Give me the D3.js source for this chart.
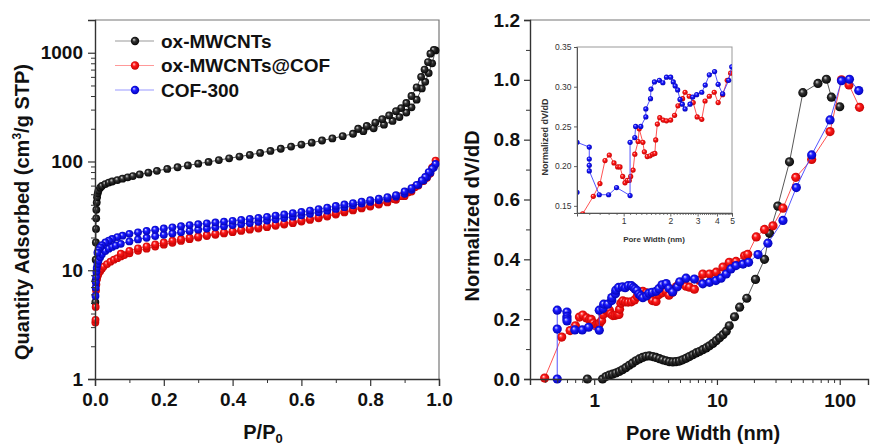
<!DOCTYPE html>
<html>
<head>
<meta charset="utf-8">
<script src="https://cdn.jsdelivr.net/npm/d3@7"></script>
<style>
  body { margin: 0; background: #fff; }
  svg { display: block; font-family: "Liberation Sans", Arial, sans-serif; }
</style>
</head>
<body>
<svg id="chart" width="870" height="448"></svg>
<script>
// ---- Isotherms, [P/P0, quantity] ----
const cntAds = [[0.001,5.1],[0.0015,8],[0.002,12.5],[0.0025,18],[0.003,24],[0.0035,30],[0.004,36],[0.005,42],[0.006,47],[0.008,51],
  [0.01,54],[0.015,57.5],[0.02,59.5],[0.03,62],[0.04,64],[0.05,65.5],[0.065,67.5],[0.08,69.5],[0.095,71.5],[0.11,73.5],[0.13,76],
  [0.155,79],[0.18,82],[0.21,85.5],[0.24,88.5],[0.27,92],[0.30,95.5],[0.33,99],[0.36,103],[0.39,107],[0.42,111],[0.45,115],
  [0.48,120],[0.51,125],[0.54,131],[0.57,137],[0.60,143],[0.63,149],[0.66,156],[0.69,163],[0.72,171],[0.75,180],[0.78,190],
  [0.81,202],[0.84,218],[0.865,236],[0.885,256],[0.905,282],[0.92,315],[0.935,370],[0.95,470],[0.96,540],[0.97,650],[0.98,800],[0.99,1050]]
const cntDes = [[0.985,1060],[0.975,980],[0.968,820],[0.958,700],[0.948,600],[0.935,480],[0.92,400],[0.905,345],[0.89,310],
  [0.875,290],[0.855,265],[0.835,245],[0.815,228],[0.79,212],[0.765,200]]

const hybAds = [[0.001,3.3],[0.0015,3.5],[0.002,4.6],[0.003,6.5],[0.004,7.4],[0.006,8.3],[0.008,8.9],[0.01,9.3],[0.015,9.8],
  [0.02,10.3],[0.025,10.8],[0.035,11.4],[0.045,12.0],[0.055,12.5],[0.065,12.9],[0.075,13.4],[0.085,13.8],[0.1,14.3],[0.125,15.1],
  [0.15,15.8],[0.175,16.5],[0.2,17.2],[0.225,17.9],[0.25,18.6],[0.275,19.3],[0.3,20.0],[0.325,20.6],[0.35,21.2],[0.375,21.8],
  [0.4,22.4],[0.425,23.0],[0.45,23.6],[0.475,24.2],[0.5,24.9],[0.525,25.6],[0.55,26.3],[0.575,27.1],[0.6,28.0],[0.625,29.0],
  [0.65,30.0],[0.675,31.2],[0.7,32.5],[0.725,34.0],[0.75,35.5],[0.775,37.0],[0.8,38.5],[0.825,40.2],[0.85,42.0],[0.875,44.5],
  [0.9,48],[0.92,53],[0.94,60],[0.955,66],[0.965,71],[0.975,78],[0.985,90],[0.99,102]]
const hybDes = [[0.98,88],[0.97,76],[0.96,70],[0.95,66],[0.93,58],[0.91,52],[0.89,48],[0.87,45],[0.85,43],[0.825,41],[0.8,39.5],
  [0.775,38],[0.75,36.5],[0.725,35],[0.7,33.5],[0.675,32],[0.65,30.8],[0.625,29.7],[0.6,28.7],[0.575,27.8],[0.55,27],[0.525,26.2],
  [0.5,25.5],[0.475,24.8],[0.45,24.1],[0.425,23.5],[0.4,22.9],[0.375,22.3],[0.35,21.7],[0.325,21.1],[0.3,20.5],[0.275,19.9],
  [0.25,19.3],[0.225,18.7],[0.2,18.0],[0.175,17.3],[0.15,16.6],[0.125,15.9],[0.1,15.1],[0.075,14.2]]

const cofAds = [[0.0015,5.8],[0.002,6.9],[0.0025,7.8],[0.003,8.7],[0.004,9.7],[0.005,10.5],[0.007,11.4],[0.01,12.2],[0.015,13.2],
  [0.02,14.0],[0.03,15.0],[0.04,15.8],[0.05,16.4],[0.06,16.9],[0.075,17.5],[0.1,18.4],[0.125,19.2],[0.15,19.9],[0.175,20.6],
  [0.2,21.2],[0.225,21.8],[0.25,22.4],[0.275,23.0],[0.3,23.6],[0.325,24.2],[0.35,24.8],[0.375,25.4],[0.4,26.0],[0.425,26.6],
  [0.45,27.2],[0.475,27.9],[0.5,28.6],[0.525,29.4],[0.55,30.2],[0.575,31.1],[0.6,32.0],[0.625,33.0],[0.65,34.1],[0.675,35.3],
  [0.7,36.6],[0.725,38.0],[0.75,39.5],[0.775,41.0],[0.8,42.5],[0.825,44.0],[0.85,45.5],[0.875,47.5],[0.9,50.5],[0.92,55],
  [0.94,61],[0.955,67],[0.965,72],[0.975,79],[0.985,88],[0.99,95]]
const cofDes = [[0.98,86],[0.97,80],[0.96,72],[0.95,67],[0.935,61],[0.92,57],[0.9,53],[0.875,49],[0.85,47],[0.825,45.5],[0.8,44],
  [0.775,42.8],[0.75,41.5],[0.725,40.3],[0.7,39.0],[0.675,37.7],[0.65,36.5],[0.625,35.4],[0.6,34.4],[0.575,33.5],[0.55,32.6],
  [0.525,31.8],[0.5,31.0],[0.475,30.3],[0.45,29.7],[0.425,29.1],[0.4,28.5],[0.375,28.0],[0.35,27.5],[0.325,27.0],[0.3,26.5],
  [0.275,26.0],[0.25,25.4],[0.225,24.8],[0.2,24.2],[0.175,23.6],[0.15,23.0],[0.125,22.3],[0.1,21.6],[0.08,20.8],[0.065,20.2],
  [0.05,19.4],[0.04,18.7],[0.03,18.0],[0.02,17.0],[0.015,16.2],[0.01,15.3],[0.007,14.5]]

// ---- Pore size distributions, [width nm, normalized dV/dD] ----
const cntPsd = [[0.88,0],[1.17,0],[1.25,0.008],[1.33,0.013],[1.41,0.016],[1.50,0.02],[1.60,0.025],[1.70,0.031],[1.81,0.038],
  [1.93,0.046],[2.05,0.053],[2.19,0.061],[2.33,0.067],[2.48,0.072],[2.64,0.076],[2.81,0.077],[3.0,0.075],[3.19,0.072],[3.40,0.068],
  [3.61,0.064],[3.85,0.061],[4.10,0.058],[4.37,0.057],[4.64,0.058],[4.94,0.060],[5.26,0.064],[5.6,0.069],[5.97,0.075],[6.36,0.081],
  [6.77,0.087],[7.2,0.092],[7.67,0.098],[8.17,0.104],[8.7,0.111],[9.26,0.119],[9.86,0.128],[10.5,0.138],[11.2,0.148],[11.9,0.16],
  [12.6,0.178],[13.9,0.208],[15.3,0.24],[17.5,0.27],[20.6,0.333],[24.4,0.40],[26.8,0.487],[31.3,0.578],[39.0,0.726],[50.1,0.957],
  [66.5,0.988],[77.9,1.002],[85.6,0.942],[100,0.91]]

const hybPsd = [[0.395,0.003],[0.544,0.14],[0.637,0.162],[0.703,0.178],[0.758,0.207],[0.808,0.214],[0.866,0.204],[0.915,0.199],
  [0.947,0.199],[0.985,0.187],[1.02,0.179],[1.055,0.182],[1.087,0.182],[1.11,0.187],[1.15,0.195],[1.18,0.215],[1.24,0.231],
  [1.26,0.247],[1.33,0.23],[1.36,0.218],[1.42,0.212],[1.48,0.213],[1.54,0.215],[1.59,0.216],[1.61,0.233],[1.65,0.253],[1.71,0.261],
  [1.80,0.258],[1.89,0.257],[2.01,0.258],[2.13,0.264],[2.24,0.276],[2.40,0.285],[2.49,0.293],[2.65,0.288],[2.81,0.28],[2.98,0.262],
  [3.19,0.259],[3.35,0.282],[3.57,0.288],[3.84,0.293],[4.07,0.28],[4.35,0.29],[4.66,0.308],[4.9,0.317],[5.26,0.32],[5.6,0.31],
  [5.97,0.307],[6.55,0.30],[7.2,0.33],[7.67,0.351],[8.7,0.351],[9.86,0.357],[11.2,0.374],[12.6,0.39],[14.3,0.393],[16.8,0.412],
  [17.8,0.417],[20.9,0.475],[24.4,0.50],[28.6,0.512],[34.5,0.571],[43.9,0.674],[59.1,0.734],[83.4,0.827],[103.4,1.0],[119,0.983],
  [145,0.908]]

const cofPsd = [[0.5,0],[0.5,0.167],[0.5,0.23],[0.6,0.224],[0.6,0.209],[0.6,0.201],[0.6,0.194],[0.696,0.164],[0.80,0.164],
  [0.90,0.173],[1.10,0.163],[1.10,0.23],[1.18,0.236],[1.195,0.25],[1.29,0.25],[1.39,0.262],[1.39,0.272],[1.49,0.285],[1.50,0.297],
  [1.58,0.306],[1.70,0.308],[1.79,0.305],[1.89,0.312],[2.01,0.312],[2.09,0.306],[2.15,0.301],[2.23,0.296],[2.31,0.284],[2.39,0.278],
  [2.49,0.272],[2.68,0.278],[2.79,0.287],[2.96,0.29],[3.19,0.293],[3.36,0.302],[3.57,0.315],[3.86,0.319],[4.07,0.303],[4.35,0.291],
  [4.76,0.308],[4.98,0.325],[5.6,0.337],[6.55,0.334],[7.67,0.318],[8.7,0.323],[9.8,0.329],[10.8,0.337],[11.9,0.351],[13.0,0.368],
  [14.3,0.379],[16.3,0.384],[18.1,0.39],[21.6,0.416],[26,0.454],[34.5,0.53],[44.3,0.64],[59.1,0.749],[83.4,0.866],[103.4,0.997],
  [120,1.002],[143,0.964]]

const legendNames = ["ox-MWCNTs", "ox-MWCNTs@COF", "COF-300"]
const pressureTicks = [0, 0.2, 0.4, 0.6, 0.8, 1.0]
const quantityTicks = [1, 10, 100, 1000]
const psdTicks = [0, 0.2, 0.4, 0.6, 0.8, 1.0, 1.2]
const widthTicks = [1, 10, 100]
const insetYTicks = [0.15, 0.20, 0.25, 0.30, 0.35]
const insetXTicks = [1, 2, 3, 4, 5]

const svg = d3.select("#chart")
const defs = svg.append("defs")

// shaded ball look for the markers
function ballGradient(id, light, mid, dark) {
  const g = defs.append("radialGradient").attr("id", id)
    .attr("cx", "50%").attr("cy", "50%").attr("r", "55%")
    .attr("fx", "36%").attr("fy", "32%")
  g.append("stop").attr("offset", "0%").attr("stop-color", light)
  g.append("stop").attr("offset", "38%").attr("stop-color", mid)
  g.append("stop").attr("offset", "100%").attr("stop-color", dark)
}
ballGradient("gBlack", "#d8d8d8", "#333", "#000")
ballGradient("gRed", "#ffd8d8", "#ff1a1a", "#c00000")
ballGradient("gBlue", "#d8d8ff", "#1a1aff", "#0000b0")

const looks = [
  { line: "#444", legendLine: "#999", fill: "url(#gBlack)" },
  { line: "#ff4040", legendLine: "#ff9999", fill: "url(#gRed)" },
  { line: "#4040ff", legendLine: "#9999ff", fill: "url(#gBlue)" }
]

const axisColor = "#333"
const font = '"Liberation Sans", Arial, sans-serif'

function drawSeries(layer, pts, x, y, look, r) {
  layer.append("path")
    .datum(pts)
    .attr("d", d3.line().x(d => x(d[0])).y(d => y(d[1])))
    .attr("fill", "none")
    .attr("stroke", look.line)
    .attr("stroke-width", 0.9)
  layer.append("g").selectAll("circle")
    .data(pts)
    .join("circle")
    .attr("cx", d => x(d[0]))
    .attr("cy", d => y(d[1]))
    .attr("r", r)
    .attr("fill", look.fill)
}

function styleAxis(g, size, weight, color) {
  g.attr("font-family", font).attr("font-size", size).attr("font-weight", weight)
  g.select(".domain").attr("stroke", axisColor).attr("stroke-width", 1.4)
  g.selectAll(".tick line").attr("stroke", axisColor).attr("stroke-width", 1.2)
  g.selectAll(".tick text").attr("fill", color)
}

function minorAxis(g, axis, values, size) {
  g.call(axis.tickValues(values).tickSize(size).tickFormat(""))
  g.select(".domain").remove()
  g.selectAll(".tick line").attr("stroke", axisColor).attr("stroke-width", 1)
}

// =========================== left: isotherms ===========================
const xL = d3.scaleLinear().domain([0, 1]).range([95, 439])
const yL = d3.scaleLog().domain([1, 2000]).range([379, 20])

svg.append("path")
  .attr("d", `M${xL(0)},${yL(2000)}H${xL(1)}V${yL(1)}`)
  .attr("fill", "none").attr("stroke", "#777").attr("stroke-width", 1.2)

const leftData = svg.append("g")
drawSeries(leftData, cntAds.concat(cntDes), xL, yL, looks[0], 3.9)
drawSeries(leftData, hybAds.concat(hybDes), xL, yL, looks[1], 3.9)
drawSeries(leftData, cofAds.concat(cofDes), xL, yL, looks[2], 3.9)

const yMinorL = []
for (const dec of [1, 10, 100, 1000])
  for (let k = 2; k <= 9; k++) if (k * dec <= 2000) yMinorL.push(k * dec)

svg.append("g").attr("transform", `translate(${xL(0)},0)`)
  .call(g => minorAxis(g, d3.axisLeft(yL), yMinorL, 4))
svg.append("g").attr("transform", `translate(${xL(0)},0)`)
  .call(d3.axisLeft(yL).tickValues(quantityTicks).tickFormat(d3.format("d")).tickSize(7).tickPadding(5))
  .call(g => styleAxis(g, 19, "bold", "#111"))

svg.append("g").attr("transform", `translate(0,${yL(1)})`)
  .call(g => minorAxis(g, d3.axisBottom(xL), [0.1, 0.3, 0.5, 0.7, 0.9], 4))
svg.append("g").attr("transform", `translate(0,${yL(1)})`)
  .call(d3.axisBottom(xL).tickValues(pressureTicks).tickFormat(d3.format(".1f")).tickSize(7).tickPadding(7))
  .call(g => styleAxis(g, 19, "bold", "#111"))

// y title with superscript
const yTitleL = svg.append("text")
  .attr("transform", "translate(29,212) rotate(-90)")
  .attr("text-anchor", "middle")
  .attr("font-family", font).attr("font-size", 20).attr("font-weight", "bold").attr("fill", "#111")
yTitleL.append("tspan").text("Quantity Adsorbed (cm")
yTitleL.append("tspan").attr("font-size", 12).attr("dy", -8).text("3")
yTitleL.append("tspan").attr("dy", 8).text("/g STP)")

const xTitleL = svg.append("text")
  .attr("x", 263).attr("y", 439)
  .attr("text-anchor", "middle")
  .attr("font-family", font).attr("font-size", 20).attr("font-weight", "bold").attr("fill", "#111")
xTitleL.append("tspan").text("P/P")
xTitleL.append("tspan").attr("font-size", 13).attr("dy", 4).text("0")

// legend
const legend = svg.append("g")
legendNames.forEach((name, i) => {
  const cy = 41 + i * 24.5
  legend.append("line")
    .attr("x1", 115).attr("x2", 154).attr("y1", cy).attr("y2", cy)
    .attr("stroke", looks[i].legendLine).attr("stroke-width", 1.2)
  legend.append("circle")
    .attr("cx", 135).attr("cy", cy).attr("r", 4.2).attr("fill", looks[i].fill)
  legend.append("text")
    .attr("x", 161).attr("y", cy + 6.5)
    .attr("font-family", font).attr("font-size", 19).attr("font-weight", "bold").attr("fill", "#111")
    .text(name)
})

// =========================== right: pore size distribution ===========================
const xR = d3.scaleLog().domain([0.3, 170]).range([530, 868])
const yR = d3.scaleLinear().domain([0, 1.2]).range([379, 20])

svg.append("line")
  .attr("x1", 530).attr("x2", 870).attr("y1", yR(1.2)).attr("y2", yR(1.2))
  .attr("stroke", "#777").attr("stroke-width", 1.2)

const rightData = svg.append("g")
drawSeries(rightData, cntPsd, xR, yR, looks[0], 4.6)
drawSeries(rightData, hybPsd, xR, yR, looks[1], 4.6)
drawSeries(rightData, cofPsd, xR, yR, looks[2], 4.6)

svg.append("g").attr("transform", `translate(${xR(0.3)},0)`)
  .call(g => minorAxis(g, d3.axisLeft(yR), [0.1, 0.3, 0.5, 0.7, 0.9, 1.1], 4))
svg.append("g").attr("transform", `translate(${xR(0.3)},0)`)
  .call(d3.axisLeft(yR).tickValues(psdTicks).tickFormat(d3.format(".1f")).tickSize(6).tickPadding(4))
  .call(g => styleAxis(g, 19, "bold", "#111"))

const xMinorR = [0.4, 0.5, 0.6, 0.7, 0.8, 0.9, 2, 3, 4, 5, 6, 7, 8, 9, 20, 30, 40, 50, 60, 70, 80, 90]
svg.append("g").attr("transform", `translate(0,${yR(0)})`)
  .call(g => minorAxis(g, d3.axisBottom(xR), xMinorR, 4))
svg.append("g").attr("transform", `translate(0,${yR(0)})`)
  .call(d3.axisBottom(xR).tickValues(widthTicks).tickFormat(d3.format("d")).tickSize(6).tickPadding(9))
  .call(g => styleAxis(g, 19, "bold", "#111"))

svg.append("text")
  .attr("transform", "translate(479,216) rotate(-90)")
  .attr("text-anchor", "middle")
  .attr("font-family", font).attr("font-size", 20).attr("font-weight", "bold").attr("fill", "#111")
  .text("Normalized dV/dD")

svg.append("text")
  .attr("x", 703).attr("y", 440)
  .attr("text-anchor", "middle")
  .attr("font-family", font).attr("font-size", 20).attr("font-weight", "bold").attr("fill", "#111")
  .text("Pore Width (nm)")

// --- inset: zoom on 0.5–5 nm ---
const xI = d3.scaleLog().domain([0.5, 5]).range([577, 732])
const yI = d3.scaleLinear().domain([0.141, 0.35]).range([213, 47])

defs.append("clipPath").attr("id", "insetClip")
  .append("rect").attr("x", 577).attr("y", 47).attr("width", 155).attr("height", 166)

svg.append("rect")
  .attr("x", 577).attr("y", 47).attr("width", 155).attr("height", 166)
  .attr("fill", "#fff").attr("stroke", "#999").attr("stroke-width", 1)

const insetData = svg.append("g").attr("clip-path", "url(#insetClip)")
drawSeries(insetData, hybPsd, xI, yI, looks[1], 2.6)
drawSeries(insetData, cofPsd, xI, yI, looks[2], 2.6)

const xMinorI = [0.6, 0.7, 0.8, 0.9]
for (const start of [1, 2, 3, 4])
  for (let k = 1; k <= 9; k++) xMinorI.push(+(start + k / 10).toFixed(1))

svg.append("g").attr("transform", `translate(0,${yI(0.141)})`)
  .call(g => minorAxis(g, d3.axisBottom(xI), xMinorI, 2))
  .call(g => g.selectAll(".tick line").attr("stroke", "#555").attr("stroke-width", 0.8))
svg.append("g").attr("transform", `translate(0,${yI(0.141)})`)
  .call(d3.axisBottom(xI).tickValues(insetXTicks).tickFormat(d3.format("d")).tickSize(3.5).tickPadding(1.5))
  .call(g => styleAxis(g, 8.5, "normal", "#333"))
  .call(g => g.select(".domain").attr("stroke", "#555").attr("stroke-width", 1))
  .call(g => g.selectAll(".tick line").attr("stroke", "#555").attr("stroke-width", 0.9))

svg.append("g").attr("transform", `translate(${xI(0.5)},0)`)
  .call(d3.axisLeft(yI).tickValues(insetYTicks).tickFormat(d3.format(".2f")).tickSize(3).tickPadding(2.5))
  .call(g => styleAxis(g, 8.5, "normal", "#333"))
  .call(g => g.select(".domain").attr("stroke", "#555").attr("stroke-width", 1))
  .call(g => g.selectAll(".tick line").attr("stroke", "#555").attr("stroke-width", 0.9))

svg.append("text")
  .attr("transform", "translate(548,137) rotate(-90)")
  .attr("text-anchor", "middle")
  .attr("font-family", font).attr("font-size", 9).attr("font-weight", "bold").attr("fill", "#333")
  .text("Normalized dV/dD")

svg.append("text")
  .attr("x", 654).attr("y", 242)
  .attr("text-anchor", "middle")
  .attr("font-family", font).attr("font-size", 8).attr("font-weight", "bold").attr("fill", "#333")
  .text("Pore Width (nm)")
</script>
</body>
</html>
